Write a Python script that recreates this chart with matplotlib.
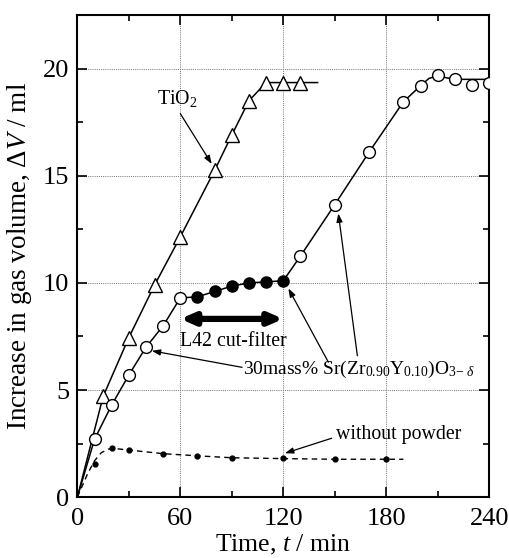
import matplotlib
matplotlib.use("Agg")
import matplotlib.pyplot as plt
from matplotlib.ticker import MultipleLocator

plt.rcParams['font.family'] = ['Liberation Serif', 'DejaVu Serif']
plt.rcParams['mathtext.fontset'] = 'custom'
plt.rcParams['mathtext.rm'] = 'Liberation Serif'
plt.rcParams['mathtext.it'] = 'Liberation Serif:italic'
plt.rcParams['mathtext.bf'] = 'Liberation Serif:bold'

# TiO2 (open triangles)
tio2_t = [0, 15, 30, 45, 60, 80, 90, 100, 110, 120, 130]
tio2_v = [0, 4.7, 7.45, 9.9, 12.15, 15.25, 16.9, 18.5, 19.35, 19.35, 19.35]
tio2_line_end = (140, 19.35)

# 30mass% Sr(Zr0.90Y0.10)O3-d : open circles (light on), filled (cut-filter)
sr_open1_t = [10, 20, 30, 40, 50, 60]
sr_open1_v = [2.7, 4.3, 5.7, 7.0, 8.0, 9.3]
sr_fill_t = [70, 80, 90, 100, 110, 120]
sr_fill_v = [9.35, 9.6, 9.85, 10.0, 10.05, 10.1]
sr_open2_t = [130, 150, 170, 190, 200, 210, 220, 230, 240]
sr_open2_v = [11.25, 13.65, 16.1, 18.45, 19.2, 19.7, 19.5, 19.25, 19.35]
sr_line_t = [0, 10, 20, 30, 40, 50, 60, 70, 80, 90, 100, 110, 120, 130, 150, 170, 190, 200, 205, 210, 220, 240]
sr_line_v = [0, 2.7, 4.3, 5.7, 7.0, 8.0, 9.3, 9.35, 9.6, 9.85, 10.0, 10.05, 10.1, 11.25, 13.65, 16.1, 18.45, 19.2, 19.55, 19.65, 19.5, 19.5]

# without powder (small dots + dashed guide)
np_t = [10, 20, 30, 50, 70, 90, 120, 150, 180]
np_v = [1.54, 2.28, 2.2, 2.03, 1.93, 1.82, 1.82, 1.77, 1.79]
np_line_t = [0, 3, 6, 10, 14, 18, 22, 30, 50, 70, 90, 120, 150, 180, 190]
np_line_v = [0, 0.55, 1.1, 1.7, 2.08, 2.24, 2.27, 2.2, 2.03, 1.93, 1.84, 1.8, 1.77, 1.77, 1.77]

fig = plt.figure(figsize=(5.09, 5.58), dpi=100)
ax = fig.add_axes([0.152, 0.109, 0.809, 0.864])

ax.set_xlim(0, 240)
ax.set_ylim(0, 22.5)
ax.xaxis.set_major_locator(MultipleLocator(60))
ax.xaxis.set_minor_locator(MultipleLocator(30))
ax.yaxis.set_major_locator(MultipleLocator(5))
ax.yaxis.set_minor_locator(MultipleLocator(2.5))
ax.tick_params(which='both', direction='in', top=True, right=True, width=1.2)
ax.tick_params(which='major', length=7, labelsize=19)
ax.tick_params(axis='x', which='major', pad=8)
ax.tick_params(axis='y', which='major', pad=6)
ax.tick_params(which='minor', length=4)
for s in ax.spines.values():
    s.set_linewidth(1.5)
ax.grid(True, which='major', linestyle=(0, (1, 1.2)), linewidth=0.7, color='0.45')
ax.set_axisbelow(True)

# TiO2
ax.plot(tio2_t + [tio2_line_end[0]], tio2_v + [tio2_line_end[1]], color='black', lw=1.1, zorder=2)
ax.plot(tio2_t[1:], tio2_v[1:], linestyle='none', marker='^', markersize=10,
        markerfacecolor='white', markeredgecolor='black', markeredgewidth=1.0, zorder=3)

# Sr sample
ax.plot(sr_line_t, sr_line_v, color='black', lw=1.1, zorder=2)
ax.plot(sr_open1_t + sr_open2_t, sr_open1_v + sr_open2_v, linestyle='none', marker='o',
        markersize=8.5, markerfacecolor='white', markeredgecolor='black', markeredgewidth=1.0, zorder=3)
ax.plot(sr_fill_t, sr_fill_v, linestyle='none', marker='o', markersize=8,
        markerfacecolor='black', markeredgecolor='black', zorder=3)

# without powder
ax.plot(np_line_t, np_line_v, color='black', lw=1.0, linestyle=(0, (4, 3)), zorder=2)
ax.plot(np_t, np_v, linestyle='none', marker='o', markersize=3.5, color='black', zorder=3)

# L42 cut-filter double arrow
ax.annotate('', xy=(120, 8.32), xytext=(60, 8.32),
            arrowprops=dict(arrowstyle='<|-|>,head_length=0.8,head_width=0.35',
                            lw=4.5, color='black', shrinkA=0, shrinkB=0))
ax.text(60, 7.25, 'L42 cut-filter', fontsize=14.3, ha='left', va='center')

# TiO2 label
ax.text(58, 18.6, 'TiO$_2$', fontsize=14.3, ha='center', va='center')
arrow_kw = dict(arrowstyle='-|>,head_length=0.5,head_width=0.18', lw=0.9, color='black',
                shrinkA=0, shrinkB=0)
ax.annotate('', xy=(78.3, 15.55), xytext=(60, 17.9), arrowprops=arrow_kw)

# Sr label
ax.text(96.5, 5.95, r'30mass% Sr(Zr$_{0.90}$Y$_{0.10}$)O$_{3\mathrm{-}\ \delta}$',
        fontsize=14, ha='left', va='center')
ax.annotate('', xy=(43.4, 6.83), xytext=(96.0, 6.06), arrowprops=arrow_kw)
ax.annotate('', xy=(123.0, 9.74), xytext=(146.3, 6.3), arrowprops=arrow_kw)
ax.annotate('', xy=(152.1, 13.24), xytext=(163.2, 6.6), arrowprops=arrow_kw)

# without powder label
ax.text(151, 2.92, 'without powder', fontsize=14.3, ha='left', va='center')
ax.annotate('', xy=(121, 2.05), xytext=(148.2, 2.75), arrowprops=arrow_kw)

ax.set_xlabel('Time, $\\mathit{t}$ / min', fontsize=18.5, labelpad=2)
ax.set_ylabel('Increase in gas volume, $\\mathit{\\Delta V}$ / ml', fontsize=19.5, labelpad=6)

fig.savefig('out.png', dpi=100)
